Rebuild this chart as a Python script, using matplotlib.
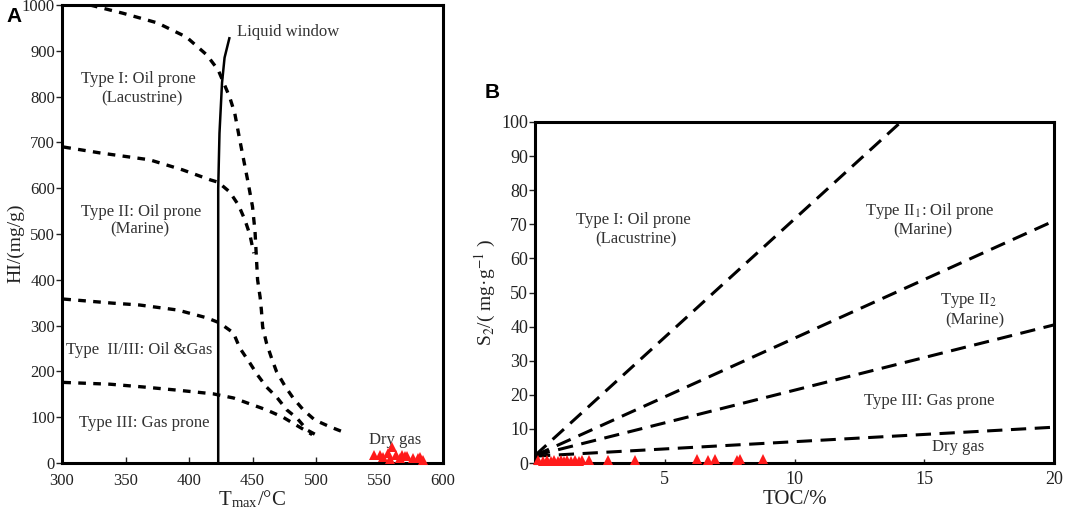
import matplotlib
matplotlib.use("Agg")
import matplotlib.pyplot as plt
import numpy as np

plt.rcParams['font.family'] = ['Liberation Serif', 'DejaVu Serif']
plt.rcParams['mathtext.fontset'] = 'stix'

# ---------------- Panel A data (Tmax vs HI) ----------------
curve_I_T = [322, 348, 375, 398, 414, 423, 427, 432, 436, 440, 446, 450, 452, 454, 456, 457, 458, 461, 465, 469, 476, 482, 490, 499, 511, 523]
curve_I_HI = [1000, 982, 961, 930, 891, 858, 832, 799, 764, 705, 620, 560, 505, 400, 362, 334, 297, 262, 229, 199, 166, 142, 116, 94, 79, 66]

curve_II_T = [301, 330, 369, 395, 417, 423, 432, 439, 444, 448, 451]
curve_II_HI = [690, 677, 662, 640, 618, 613, 592, 563, 531, 498, 458]

curve_IIIII_T = [301, 340, 361, 391, 414, 424, 435, 440, 448, 454, 461, 469, 477, 485, 493, 503]
curve_IIIII_HI = [358, 349, 345, 334, 317, 306, 284, 251, 218, 192, 166, 144, 116, 98, 72, 57]

curve_III_T = [301, 338, 364, 391, 419, 435, 450, 461, 474, 483, 491, 497]
curve_III_HI = [176, 172, 166, 159, 151, 142, 127, 116, 100, 85, 72, 62]

liquid_T = [423, 423, 423, 424, 426, 428, 432]
liquid_HI = [0, 400, 600, 720, 830, 885, 930]

samples_A_T = [546, 550, 553, 557, 558, 560, 563, 566, 568, 570, 572, 576, 580, 582, 584]
samples_A_HI = [17, 17, 14, 22, 8, 35, 17, 10, 18, 15, 16, 11, 12, 14, 7]

xticks_A = [300, 350, 400, 450, 500, 550, 600]
yticks_A = [0, 100, 200, 300, 400, 500, 600, 700, 800, 900, 1000]

# ---------------- Panel B data (TOC vs S2) ----------------
line_I_x = [0, 14.1]
line_I_y = [2.2, 100]
line_II1_x = [0, 20]
line_II1_y = [2.2, 71]
line_II2_x = [0, 20]
line_II2_y = [2.2, 40.5]
line_III_x = [0, 20]
line_III_y = [2.0, 10.5]

samples_B_TOC = [0.12, 0.3, 0.45, 0.6, 0.75, 0.9, 1.0, 1.12, 1.25, 1.4, 1.55, 1.68, 1.82, 2.1, 2.8, 3.85, 6.24, 6.67, 6.94, 7.78, 7.9, 8.79]
samples_B_S2 = [0.8, 0.6, 0.9, 0.5, 0.8, 0.6, 0.9, 0.7, 0.8, 0.6, 0.9, 0.7, 0.8, 0.9, 0.8, 1.0, 1.1, 0.9, 1.3, 1.0, 1.3, 1.2]

xticks_B = [5, 10, 15, 20]
yticks_B = [0, 10, 20, 30, 40, 50, 60, 70, 80, 90, 100]

fig = plt.figure(figsize=(10.65, 5.11), dpi=100)

# ---------------- Panel A ----------------
axA = fig.add_axes([62/1065, 1-463/511, (443-62)/1065, (463-5)/511])
dot = (0, (2.3, 2.2))
for xs, ys in [(curve_I_T, curve_I_HI), (curve_II_T, curve_II_HI),
               (curve_IIIII_T, curve_IIIII_HI), (curve_III_T, curve_III_HI)]:
    axA.plot(xs, ys, color='black', lw=2.4, linestyle=dot, dash_capstyle='butt')
axA.plot(liquid_T, liquid_HI, color='black', lw=1.8, solid_capstyle='butt')
axA.plot(samples_A_T, samples_A_HI, linestyle='none', marker='^', color='#ff1a1a',
         markersize=7, markeredgewidth=0, clip_on=False, zorder=5)
axA.set_xlim(300, 600)
axA.set_ylim(0, 1000)
axA.set_xticks(xticks_A)
axA.set_yticks(yticks_A)
axA.tick_params(axis='x', direction='in', length=4, width=1, labelsize=12, pad=7, colors='#222222')
axA.tick_params(axis='y', direction='out', length=4, width=1, labelsize=12, pad=1, colors='#222222')
for s in axA.spines.values():
    s.set_linewidth(2.2)
axA.set_ylabel('HI/(mg/g)', fontsize=14, color='#222222', labelpad=2)
axA.yaxis.set_label_coords(-0.1, 0.48)
axA.set_xlabel(r'T$_{\mathregular{max}}$/°C', fontsize=15, color='#222222', labelpad=0)

tA = dict(fontsize=12, color='#333333', ha='center', va='center')
axA.text(360, 838, 'Type I: Oil prone', **tA)
axA.text(363, 797, '(Lacustrine)', **tA)
axA.text(362, 548, 'Type II: Oil prone', **tA)
axA.text(361, 509, '(Marine)', **tA)
axA.text(361, 247, 'Type  II/III: Oil &Gas', **tA)
axA.text(365, 87, 'Type III: Gas prone', **tA)
axA.text(562, 50, 'Dry gas', **tA)
axA.text(438, 941, 'Liquid window', fontsize=12, color='#333333', ha='left', va='center')

fig.text(14/1065, 1-17/511, 'A', fontsize=15, fontweight='bold', family='Liberation Sans',
         ha='center', va='center')

# ---------------- Panel B ----------------
axB = fig.add_axes([535/1065, 1-463/511, (1054-535)/1065, (463-122)/511])
dash = (0, (5, 2.8))
for xs, ys in [(line_I_x, line_I_y), (line_II1_x, line_II1_y),
               (line_II2_x, line_II2_y), (line_III_x, line_III_y)]:
    axB.plot(xs, ys, color='black', lw=2.2, linestyle=dash, dash_capstyle='butt')
axB.plot(samples_B_TOC, samples_B_S2, linestyle='none', marker='^', color='#ff1a1a',
         markersize=7, markeredgewidth=0, clip_on=False, zorder=5)
axB.set_xlim(0, 20)
axB.set_ylim(0, 100)
axB.set_xticks(xticks_B)
axB.set_yticks(yticks_B)
axB.tick_params(axis='x', direction='in', length=3, width=1, labelsize=13, pad=6, colors='#222222')
axB.tick_params(axis='y', direction='out', length=4, width=1, labelsize=13, pad=1, colors='#222222')
for s in axB.spines.values():
    s.set_linewidth(2.2)
axB.set_ylabel(r'S$_2$/( mg·g$^{-1}$ )', fontsize=14, color='#222222', labelpad=2)
axB.set_xlabel('TOC/%', fontsize=15, color='#222222', labelpad=1)

tB = dict(fontsize=12, color='#333333', ha='center', va='center')
axB.text(3.8, 71.3, 'Type I: Oil prone', **tB)
axB.text(3.9, 65.7, '(Lacustrine)', **tB)
axB.text(15.2, 73.9, r'Type II$_1$: Oil prone', **tB)
axB.text(14.95, 68.3, '(Marine)', **tB)
axB.text(16.7, 47.8, r'Type II$_2$', **tB)
axB.text(16.95, 41.9, '(Marine)', **tB)
axB.text(15.2, 18.2, 'Type III: Gas prone', **tB)
axB.text(16.3, 4.7, 'Dry gas', **tB)

fig.text(492/1065, 1-93/511, 'B', fontsize=15, fontweight='bold', family='Liberation Sans',
         ha='center', va='center')

fig.savefig('out.png', dpi=100)
